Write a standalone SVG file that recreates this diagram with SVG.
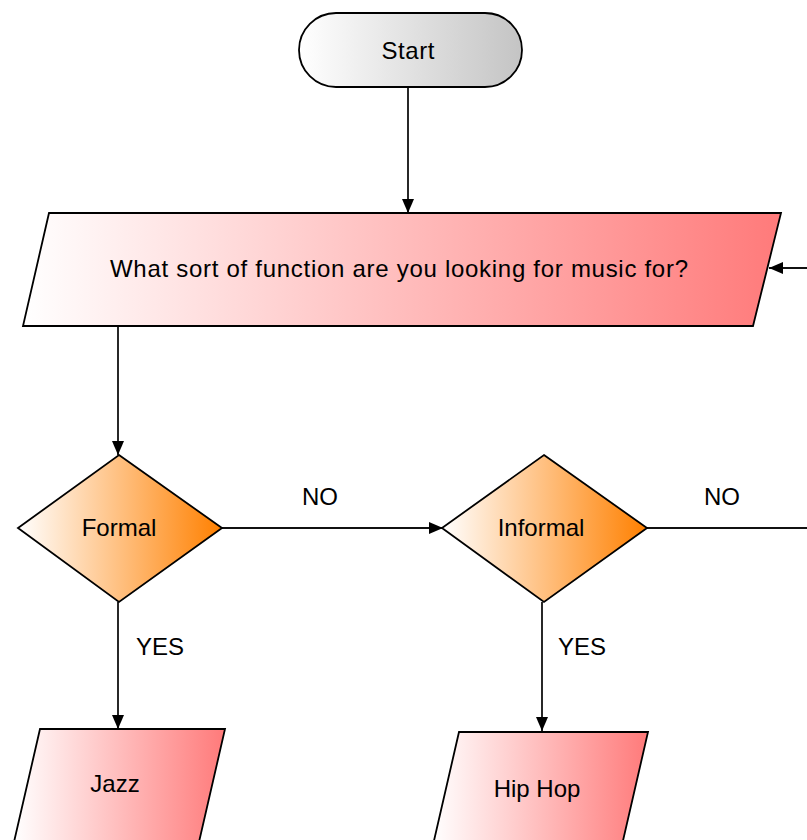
<svg xmlns="http://www.w3.org/2000/svg" width="807" height="840" viewBox="0 0 807 840">
<defs>
<linearGradient id="gGray" x1="0" y1="0" x2="1" y2="0"><stop offset="0" stop-color="#ffffff"/><stop offset="1" stop-color="#c4c4c4"/></linearGradient>
<linearGradient id="gRed" x1="0" y1="0" x2="1" y2="0"><stop offset="0" stop-color="#ffffff"/><stop offset="1" stop-color="#ff7a7a"/></linearGradient>
<linearGradient id="gOrange" x1="0" y1="0" x2="1" y2="0"><stop offset="0" stop-color="#ffffff"/><stop offset="1" stop-color="#ff8000"/></linearGradient>
<marker id="arr" viewBox="0 0 14 12" refX="14" refY="6" markerWidth="14" markerHeight="12" markerUnits="userSpaceOnUse" orient="auto"><path d="M0,0 L14,6 L0,12 Z" fill="#000"/></marker>
</defs>
<style>
.shape{stroke:#000;stroke-width:1.8}
.lbl{font-family:"Liberation Sans",Arial,sans-serif;font-size:24px;fill:#000;text-anchor:middle}
.conn{stroke:#111;stroke-width:1.8;fill:none}
</style>
<g id="connectors">
<line class="conn" x1="408" y1="87" x2="408" y2="213" marker-end="url(#arr)"/>
<line class="conn" x1="807" y1="268" x2="769" y2="268" marker-end="url(#arr)"/>
<line class="conn" x1="118" y1="326" x2="118" y2="455" marker-end="url(#arr)"/>
<line class="conn" x1="222" y1="528" x2="443" y2="528" marker-end="url(#arr)"/>
<line class="conn" x1="647" y1="528" x2="807" y2="528"/>
<line class="conn" x1="118" y1="602" x2="118" y2="729" marker-end="url(#arr)"/>
<line class="conn" x1="542" y1="602" x2="542" y2="731" marker-end="url(#arr)"/>
<text class="lbl" x="320" y="505">NO</text>
<text class="lbl" x="722" y="505">NO</text>
<text class="lbl" x="160" y="655">YES</text>
<text class="lbl" x="582" y="655">YES</text>
</g>
<g id="start">
<rect class="shape" x="299" y="13" width="223" height="74" rx="37" fill="url(#gGray)"/>
<text class="lbl" x="408" y="59" textLength="53">Start</text>
</g>
<g id="question">
<polygon class="shape" points="49,213 781,213 753,326 23,326" fill="url(#gRed)"/>
<text class="lbl" x="399" y="277" textLength="578">What sort of function are you looking for music for?</text>
</g>
<g id="formal">
<polygon class="shape" points="119,455 222,528 119,602 18,528" fill="url(#gOrange)"/>
<text class="lbl" x="119" y="536">Formal</text>
</g>
<g id="informal">
<polygon class="shape" points="544,455 647,528 544,602 442,528" fill="url(#gOrange)"/>
<text class="lbl" x="541" y="536">Informal</text>
</g>
<g id="jazz">
<polygon class="shape" points="40,729 225,729 199,842 14,842" fill="url(#gRed)"/>
<text class="lbl" x="115" y="792">Jazz</text>
</g>
<g id="hiphop">
<polygon class="shape" points="459,732 648,732 622,845 433,845" fill="url(#gRed)"/>
<text class="lbl" x="537" y="797">Hip Hop</text>
</g>
</svg>
